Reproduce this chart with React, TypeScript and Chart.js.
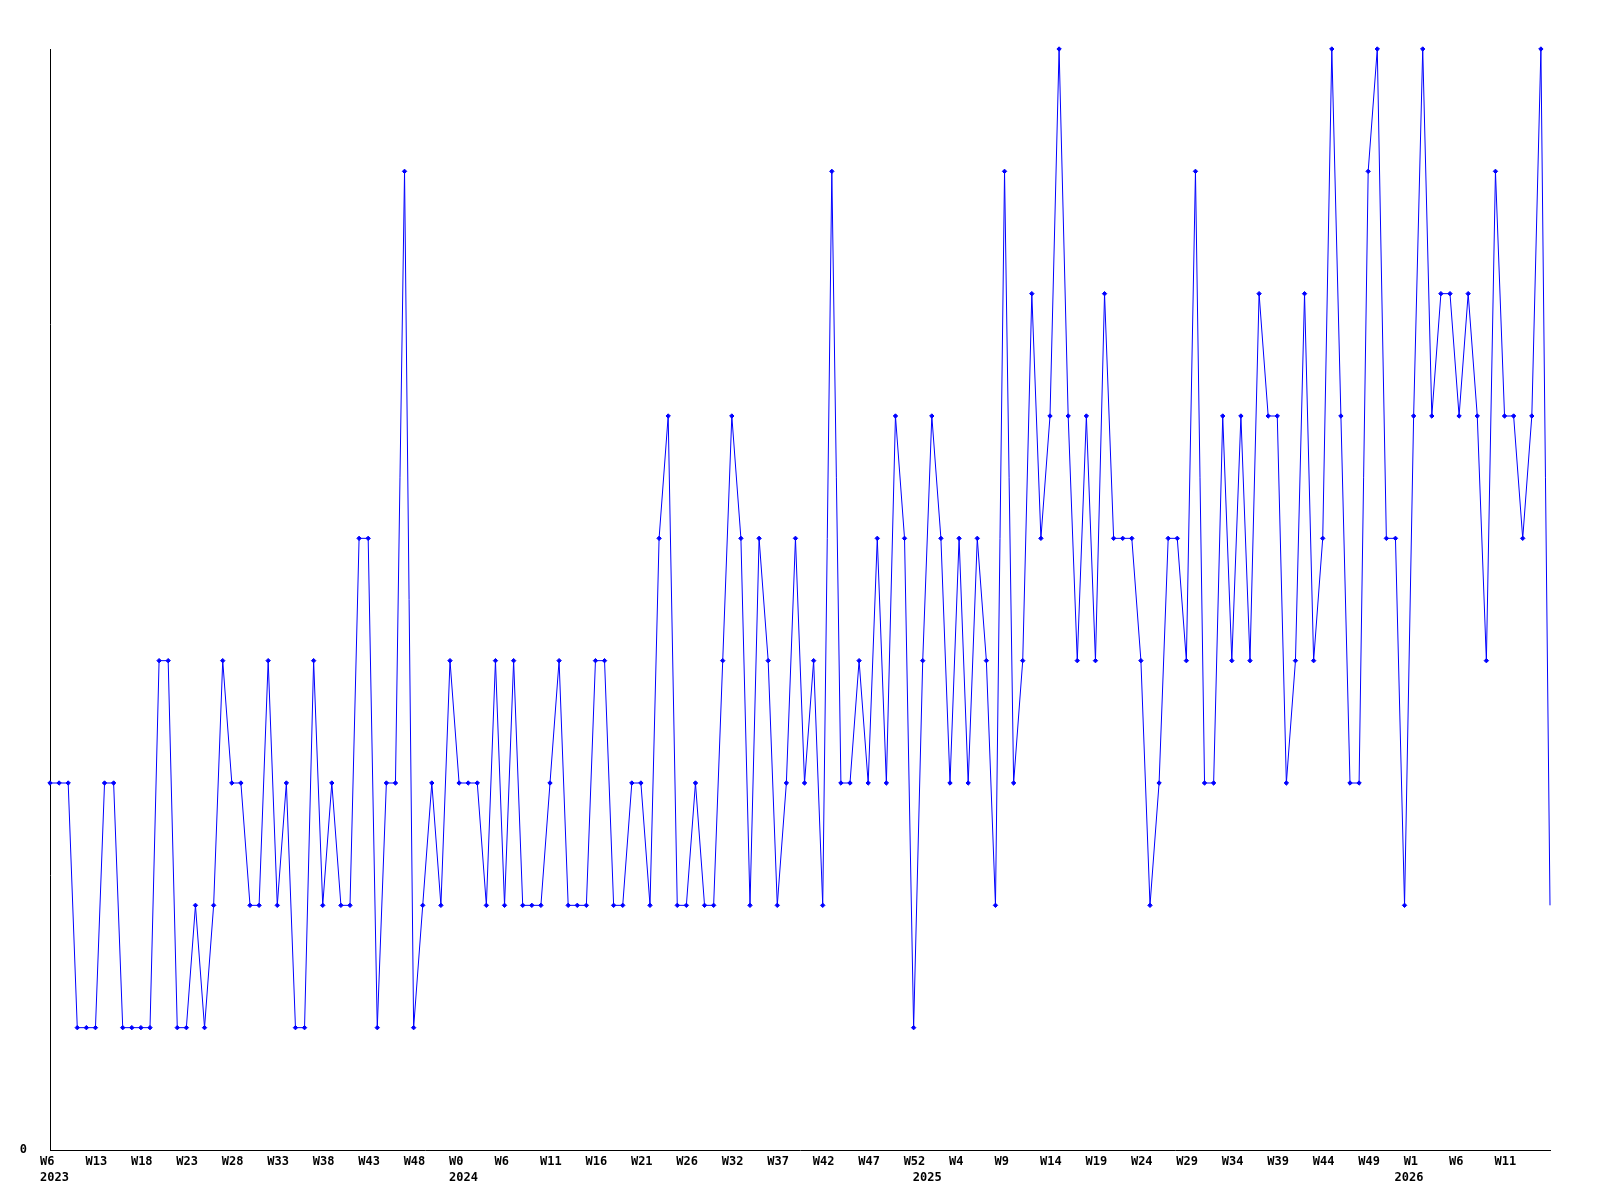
import React, { useEffect, useRef } from "react";
import { Chart, registerables } from "chart.js";

Chart.register(...registerables);

// Weekly values, one per point (equally spaced points)
const values: number[] = [
  3, 3, 3, 1, 1, 1, 3, 3, 1, 1, 1, 1, 4, 4, 1, 1, 2, 1, 2, 4, 3,
  3, 2, 2, 4, 2, 3, 1, 1, 4, 2, 3, 2, 2, 5, 5, 1, 3, 3, 8, 1, 2,
  3, 2, 4, 3, 3, 3, 2, 4, 2, 4, 2, 2, 2, 3, 4, 2, 2, 2, 4, 4, 2,
  2, 3, 3, 2, 5, 6, 2, 2, 3, 2, 2, 4, 6, 5, 2, 5, 4, 2, 3, 5, 3,
  4, 2, 8, 3, 3, 4, 3, 5, 3, 6, 5, 1, 4, 6, 5, 3, 5, 3, 5, 4, 2,
  8, 3, 4, 7, 5, 6, 9, 6, 4, 6, 4, 7, 5, 5, 5, 4, 2, 3, 5, 5, 4,
  8, 3, 3, 6, 4, 6, 4, 7, 6, 6, 3, 4, 7, 4, 5, 9, 6, 3, 3, 8,
  9, 5, 5, 2, 6, 9, 6, 7, 7, 6, 7, 6, 4, 8, 6, 6, 5, 6, 9, 2,
];

// Week tick labels and the point index they sit under
const weekTickIndex: number[] = [
  0, 5, 10, 15, 20, 25, 30, 35, 40, 45, 50, 55, 60, 65, 70, 75, 80, 85, 90, 95,
  100, 105, 110, 115, 120, 125, 130, 135, 140, 145, 150, 155, 160,
];
const weekTickLabel: string[] = [
  "W6", "W13", "W18", "W23", "W28", "W33", "W38", "W43", "W48", "W0",
  "W6", "W11", "W16", "W21", "W26", "W32", "W37", "W42", "W47", "W52",
  "W4", "W9", "W14", "W19", "W24", "W29", "W34", "W39", "W44", "W49",
  "W1", "W6", "W11",
];

// Year labels (second line) and their point index
const yearTickIndex: number[] = [0, 45, 96, 149];
const yearTickLabel: string[] = ["2023", "2024", "2025", "2026"];

// Y axis tick labels
const yTickValues: number[] = [0, 9];
const yTickLabels: string[] = ["0", ""];

const xLabels: (string | string[])[] = values.map((_, i) => {
  const wi = weekTickIndex.indexOf(i);
  const yi = yearTickIndex.indexOf(i);
  const w = wi >= 0 ? weekTickLabel[wi] : "";
  if (yi >= 0) return [w, yearTickLabel[yi]];
  return w;
});

const FONT = '"DejaVu Sans Mono", "Liberation Mono", monospace';

export default function App() {
  const ref = useRef<HTMLCanvasElement | null>(null);

  useEffect(() => {
    if (!ref.current) return;
    const chart = new Chart(ref.current, {
      type: "line",
      data: {
        labels: xLabels,
        datasets: [
          {
            data: values,
            borderColor: "#0000ff",
            backgroundColor: "#0000ff",
            borderWidth: 1,
            tension: 0,
            fill: false,
            clip: false,
            pointStyle: "rectRot",
            pointRadius: (ctx: any) => (ctx.dataIndex === values.length - 1 ? 0 : 2.2),
            pointBorderWidth: 1,
            pointBackgroundColor: "#0000ff",
            pointBorderColor: "#0000ff",
          },
        ],
      },
      options: {
        responsive: false,
        animation: false,
        devicePixelRatio: 1,
        layout: { padding: { top: 49, right: 50, left: 0, bottom: 0 } },
        plugins: {
          legend: { display: false },
          tooltip: { enabled: false },
          title: { display: false },
        },
        scales: {
          x: {
            type: "category",
            offset: false,
            grid: { display: false, drawTicks: false },
            border: { display: true, color: "#000000", width: 1 },
            ticks: {
              autoSkip: false,
              maxRotation: 0,
              minRotation: 0,
              align: "start",
              labelOffset: -10,
              padding: 4,
              color: "#000000",
              font: { family: FONT, size: 12, weight: "bold", lineHeight: 1.31 },
            },
            afterFit: (scale: any) => {
              scale.height = 50;
            },
          },
          y: {
            min: 0,
            max: 9,
            grid: { display: false, drawTicks: false },
            border: { display: true, color: "#000000", width: 1 },
            afterBuildTicks: (scale: any) => {
              scale.ticks = yTickValues.map((v) => ({ value: v }));
            },
            ticks: {
              padding: 23,
              color: "#000000",
              font: { family: FONT, size: 12, weight: "bold" },
              callback: (v: any) => {
                const i = yTickValues.indexOf(Number(v));
                return i >= 0 ? yTickLabels[i] : "";
              },
            },
            afterFit: (scale: any) => {
              scale.width = 50;
            },
          },
        },
      },
    });
    return () => chart.destroy();
  }, []);

  return (
    <div style={{ position: "absolute", left: 0, top: 0, width: 1600, height: 1200, background: "#ffffff" }}>
      <canvas ref={ref} width={1600} height={1200} style={{ display: "block" }} />
    </div>
  );
}
